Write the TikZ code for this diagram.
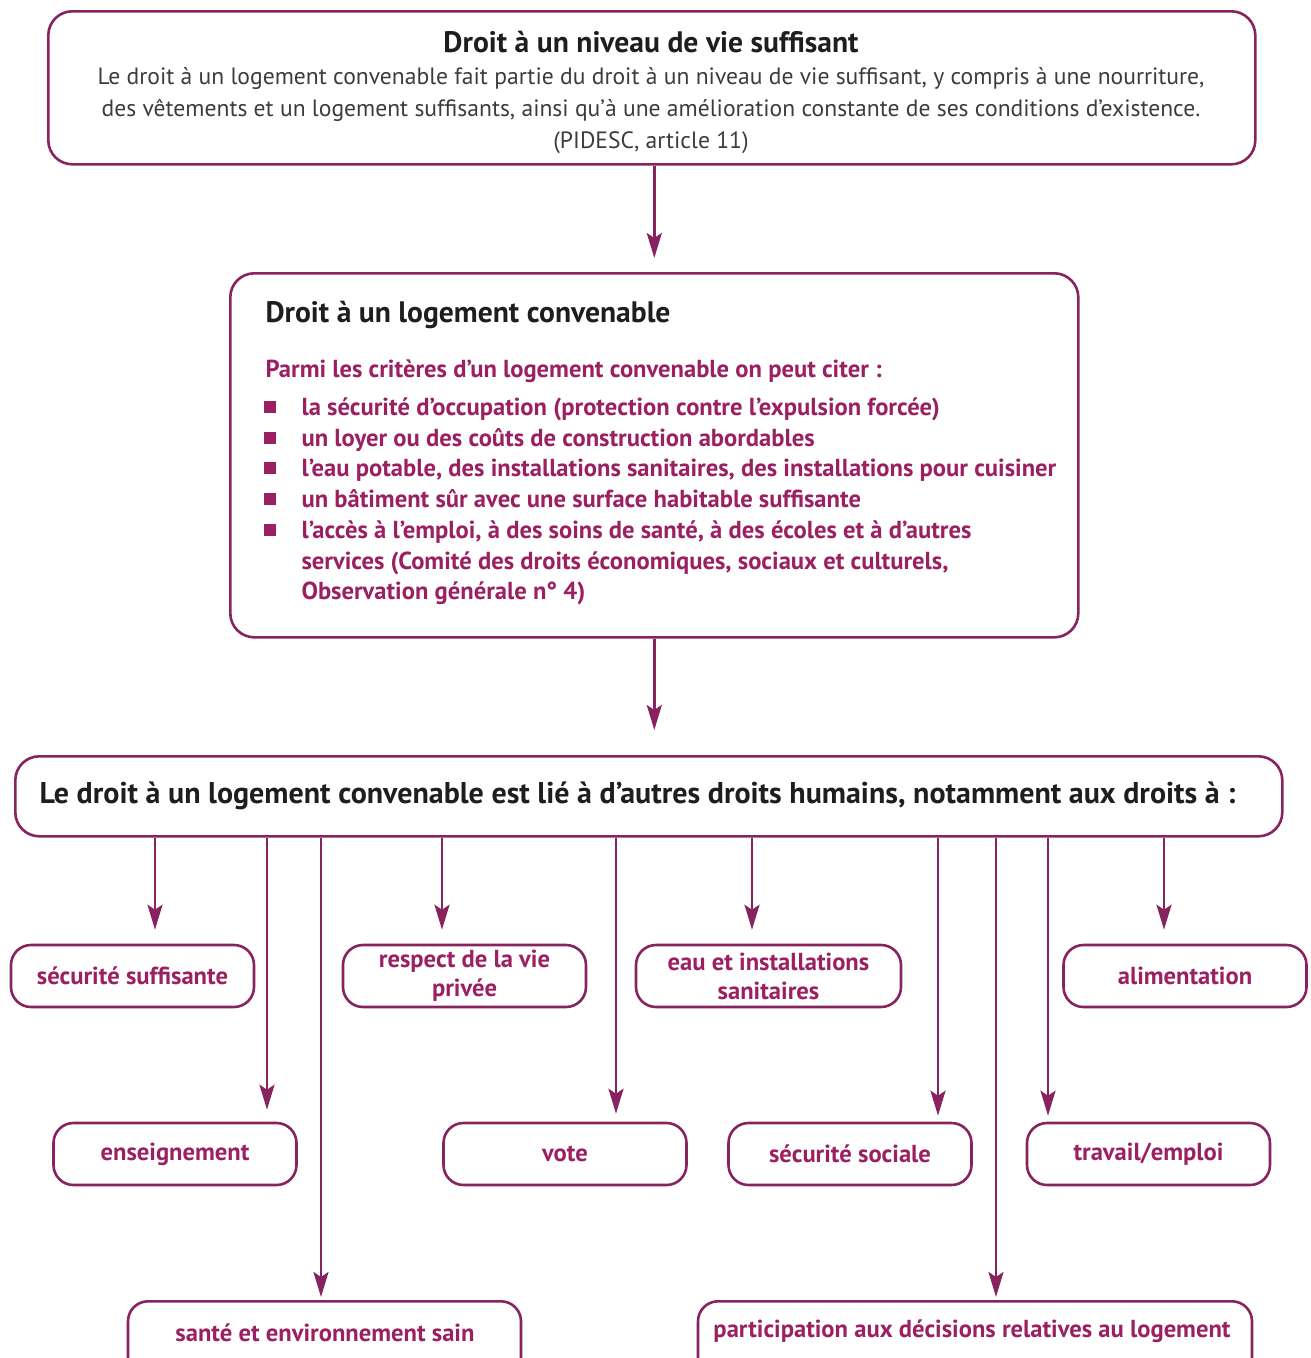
\documentclass[tikz,border=0pt]{standalone}
\usepackage{fontspec}
\setmainfont{PT Sans}
\usetikzlibrary{arrows.meta}
\definecolor{frame}{RGB}{135,35,95}
\definecolor{mag}{RGB}{155,32,98}
\definecolor{ink}{RGB}{30,30,30}
\definecolor{body}{RGB}{60,60,60}
\begin{document}
\begin{tikzpicture}[x=1pt,y=-1pt,
  bigbox/.style={draw=frame, line width=2.6pt, rounded corners=24pt, anchor=north west, inner sep=0pt},
  sbox/.style={draw=frame, line width=2.6pt, rounded corners=20pt, inner sep=0pt, minimum width=243pt, minimum height=62pt, font=\fontsize{24.6}{29}\selectfont\bfseries, text=mag, align=center},
  arr/.style={draw=frame, line width=2.6pt, -{Stealth[length=25pt,width=15pt,inset=5pt]}},
  tb/.style={anchor=base, font=\fontsize{23.6}{32}\selectfont, text=body},
  lt/.style={anchor=base west, font=\fontsize{24.6}{30}\selectfont\bfseries, text=mag},
  bul/.style={fill=mag, minimum size=12pt, inner sep=0pt}
]
\useasboundingbox (0,0) rectangle (1310,1358);
\clip (0,0) rectangle (1310,1358);

% box 1
\node[bigbox, minimum width=1207pt, minimum height=153pt] (b1) at (47,10) {};
\node[anchor=base, font=\fontsize{29.6}{32}\selectfont\bfseries, text=ink] (t1) at (651,52) {Droit à un niveau de vie suffisant};
\node[tb] (t1a) at (651,84) {Le droit à un logement convenable fait partie du droit à un niveau de vie suffisant, y compris à une nourriture,};
\node[tb] (t1b) at (651,116) {des vêtements et un logement suffisants, ainsi qu’à une amélioration constante de ses conditions d’existence.};
\node[tb] (t1c) at (651,148) {(PIDESC, article 11)};

% box 2
\node[bigbox, minimum width=848pt, minimum height=364pt] (b2) at (229,272) {};
\node[anchor=base west, font=\fontsize{29.6}{32}\selectfont\bfseries, text=ink] (t2) at (262,322) {Droit à un logement convenable};
\node[lt] (p0) at (262,377) {Parmi les critères d’un logement convenable on peut citer :};
\node[lt] (p1) at (298,415) {la sécurité d{\char"0027}occupation (protection contre l’expulsion forcée)};
\node[lt] (p2) at (298,446) {un loyer ou des coûts de construction abordables};
\node[lt] (p3) at (298,476) {l’eau potable, des installations sanitaires, des installations pour cuisiner};
\node[lt] (p4) at (298,507) {un bâtiment sûr avec une surface habitable suffisante};
\node[lt] (p5) at (298,538) {l’accès à l’emploi, à des soins de santé, à des écoles et à d’autres};
\node[lt] (p6) at (298,569) {services (Comité des droits économiques, sociaux et culturels,};
\node[lt] (p7) at (298,599) {Observation générale n° 4)};
\foreach \y/\n in {407/1,438/2,468/3,499/4,530/5}
  \node[bul] (q\n) at (270,\y) {};

% box 3
\node[bigbox, minimum width=1267pt, minimum height=80pt] (b3) at (14,755) {};
\node[anchor=base west, font=\fontsize{30}{32}\selectfont\bfseries, text=ink] (t3) at (36,803) {Le droit à un logement convenable est lié à d’autres droits humains, notamment aux droits à :};

% arrows between big boxes
\draw[arr] (b1.south -| b2.north) -- ([yshift=14pt]b2.north);
\draw[arr] (b2.south) -- ([yshift=25pt]b3.north -| b2.south);

% small boxes
\node[sbox] (s1) at (132.5,976) {sécurité suffisante};
\node[sbox] (s2) at (464.5,976) {respect de la vie\\privée};
\node[sbox, minimum width=265pt] (s3) at (768.5,976) {eau et installations\\sanitaires};
\node[sbox] (s4) at (1185,976) {alimentation};
\node[sbox] (s5) at (175,1154) {enseignement};
\node[sbox] (s6) at (565,1154) {vote};
\node[sbox] (s7) at (850,1154) {sécurité sociale};
\node[sbox] (s8) at (1148.5,1154) {travail/emploi};
\node[sbox, minimum width=393pt, minimum height=100pt, anchor=north] (s9) at (324.5,1300) {};
\node[sbox, minimum width=554pt, minimum height=100pt, anchor=north] (s10) at (975,1300) {};
\node[anchor=base, font=\fontsize{24.6}{29}\selectfont\bfseries, text=mag] (s9t) at (325,1341) {santé et environnement sain};
\node[anchor=base, font=\fontsize{24.6}{29}\selectfont\bfseries, text=mag] (s10t) at (972,1337) {participation aux décisions relatives au logement};

% arrow x positions
\coordinate (x1) at (155,0);
\coordinate (x2) at (267,0);
\coordinate (x3) at (321,0);
\coordinate (x4) at (442,0);
\coordinate (x5) at (616,0);
\coordinate (x6) at (752,0);
\coordinate (x7) at (938,0);
\coordinate (x8) at (996,0);
\coordinate (x9) at (1048,0);
\coordinate (x10) at (1164,0);

\draw[arr, shorten >=14pt] (b3.south -| x1) -- (s1.north -| x1);
\draw[arr, shorten >=12pt] (b3.south -| x2) -- (s5.north -| x2);
\draw[arr, shorten >=3pt] (b3.south -| x3) -- (s9.north -| x3);
\draw[arr, shorten >=14pt] (b3.south -| x4) -- (s2.north -| x4);
\draw[arr, shorten >=8pt] (b3.south -| x5) -- (s6.north -| x5);
\draw[arr, shorten >=14pt] (b3.south -| x6) -- (s3.north -| x6);
\draw[arr, shorten >=6pt] (b3.south -| x7) -- (s7.north -| x7);
\draw[arr, shorten >=3pt] (b3.south -| x8) -- (s10.north -| x8);
\draw[arr, shorten >=6pt] (b3.south -| x9) -- (s8.north -| x9);
\draw[arr, shorten >=14pt] (b3.south -| x10) -- (s4.north -| x10);
\end{tikzpicture}
\end{document}
